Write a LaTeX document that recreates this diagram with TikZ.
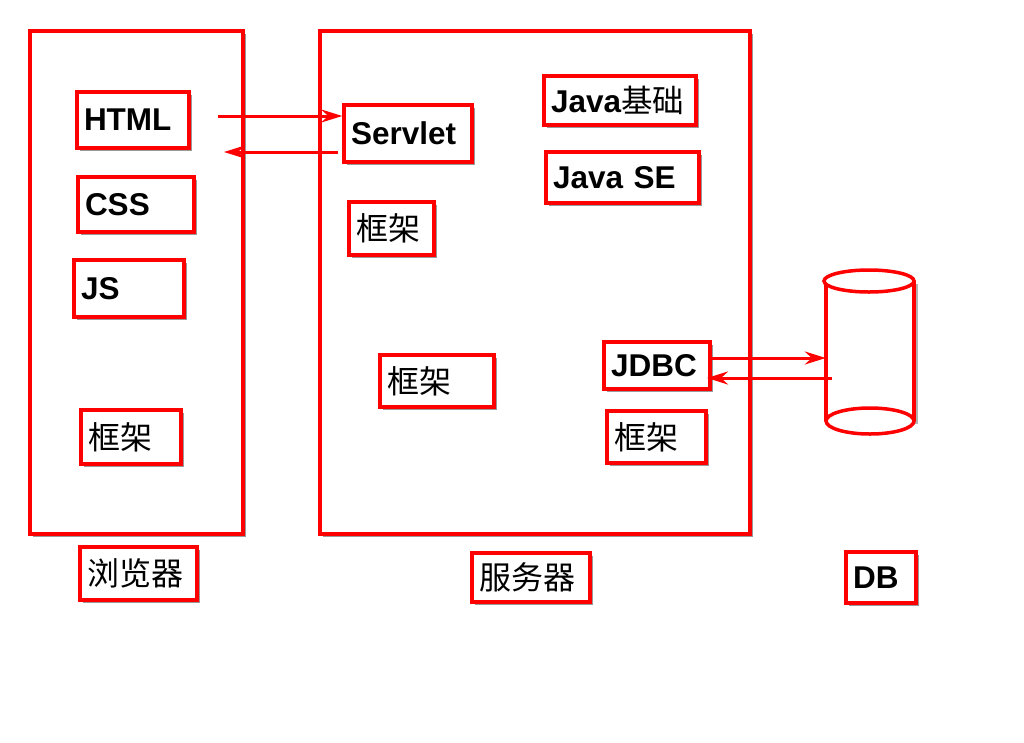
\documentclass[tikz,border=0pt]{standalone}
\usepackage{fontspec}
\setmainfont{Liberation Sans}
\newfontfamily\cjk{Noto Sans CJK SC}
\usetikzlibrary{shadows,arrows.meta}
\begin{document}
\begin{tikzpicture}[x=1pt,y=-1pt,
  shad/.style={drop shadow={shadow xshift=3pt,shadow yshift=-3pt,fill=black,opacity=0.4}},
  frame/.style={draw=red,line width=3.5pt,fill=white,shad,inner sep=0pt},
  box/.style={draw=red,line width=3.5pt,fill=white,shad,inner xsep=6pt,inner ysep=0pt,align=left,
    font=\fontsize{31.5}{36}\selectfont\bfseries},
  cn/.style={font=\fontsize{32}{36}\selectfont\cjk},
  arr/.style={draw=red,line width=3pt,-{Stealth[length=21pt,width=13pt,inset=7pt]}}]
\useasboundingbox (0,0) rectangle (1024,742);
% frames
\node[frame,minimum width=213pt,minimum height=503pt] (browser) at (136.5,282.5) {};
\node[frame,minimum width=430pt,minimum height=503pt] (server) at (535,282.5) {};
% browser boxes
\node[box,minimum width=112pt,minimum height=56pt,text width=98pt] (html) at (133,120) {HTML};
\node[box,minimum width=116pt,minimum height=55pt,text width=102pt] (css) at (136,204.5) {CSS};
\node[box,minimum width=110pt,minimum height=57pt,text width=96pt] (js) at (129,288.5) {JS};
\node[box,cn,minimum width=100pt,minimum height=54pt,text width=86pt] (fk1) at (131,437) {框架};
\node[box,cn,minimum width=117pt,minimum height=53pt,text width=103pt] (blabel) at (138.5,573.5) {浏览器};
% server boxes
\node[box,minimum width=128pt,minimum height=57pt,text width=114pt] (servlet) at (408,133.5) {Servlet};
\node[box,minimum width=152pt,minimum height=49pt,text width=138pt] (javajc) at (620,100.5) {Java{\cjk\mdseries 基础}};
\node[box,minimum width=153pt,minimum height=51pt,text width=139pt] (javase) at (622.5,177.5) {Java SE};
\node[box,cn,minimum width=85pt,minimum height=53pt,text width=71pt] (fk2) at (391.5,228.5) {框架};
\node[box,cn,minimum width=114pt,minimum height=52pt,text width=100pt] (fk3) at (437,381) {框架};
\node[box,minimum width=106pt,minimum height=47pt,text width=92pt] (jdbc) at (657,365.5) {JDBC};
\node[box,cn,minimum width=99pt,minimum height=52pt,text width=85pt] (fk4) at (656.5,437) {框架};
\node[box,cn,minimum width=118pt,minimum height=49pt,text width=104pt] (slabel) at (531,577.5) {服务器};
\node[box,minimum width=70pt,minimum height=51pt,text width=56pt] (db) at (881,577.5) {DB};
% cylinder
\begin{scope}[draw=red,line width=3.5pt]
  \fill[black,opacity=0.3] (829,284) rectangle (918,424);
  \fill[white] (826,281) rectangle (914,421);
  \draw (826,281) -- (826,421);
  \draw (914,281) -- (914,421);
  \draw[fill=white] (870,421) ellipse [x radius=44, y radius=13];
  \draw[fill=white] (869,281) ellipse [x radius=45, y radius=11];
\end{scope}
\node[minimum width=88pt,minimum height=140pt,inner sep=0pt] (dbcyl) at (870,351) {};
% connectors
\coordinate (h1) at (218,116);
\coordinate (s1) at (338,152);
\coordinate (h2) at (224,152);
\coordinate (j1) at (708,358);
\coordinate (c2) at (832,378);
\coordinate (j2) at (707,378);
\draw[arr] (h1) -- (servlet.west |- h1);
\draw[arr] (s1) -- (h2);
\draw[arr] (j1) -- (dbcyl.west |- j1);
\draw[arr] (c2) -- (j2);
\end{tikzpicture}
\end{document}
